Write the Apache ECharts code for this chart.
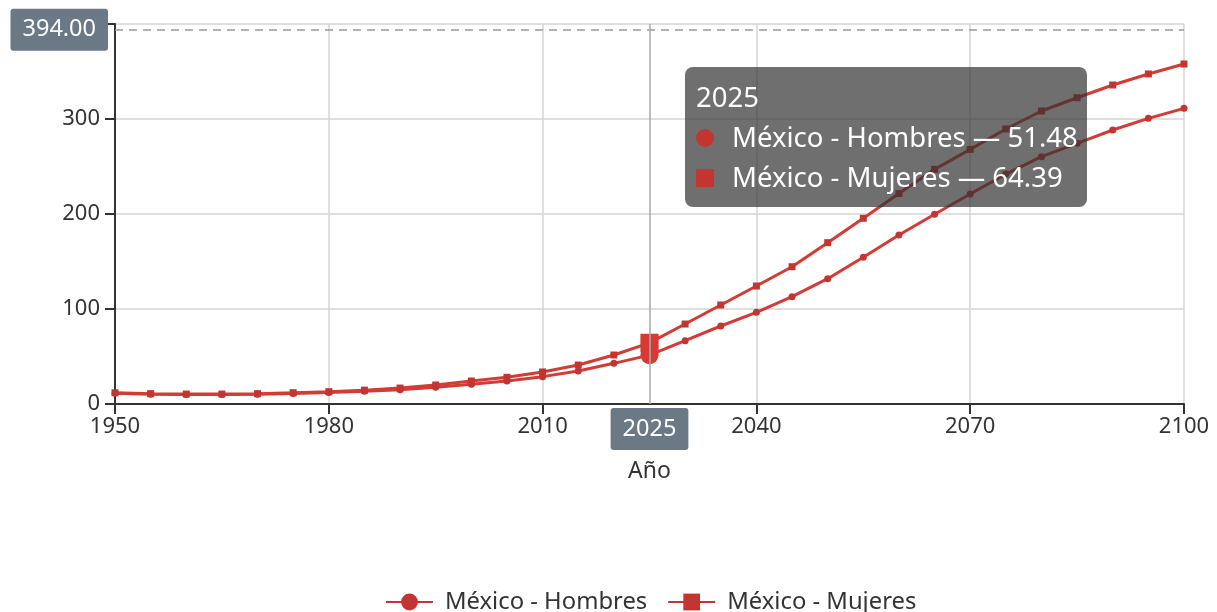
<!DOCTYPE html>
<html>
<head>
<meta charset="utf-8">
<script src="https://cdn.jsdelivr.net/npm/echarts@6/dist/echarts.min.js"></script>
<style>
html,body{margin:0;padding:0;background:#fff;}
#c{width:1217px;height:612px;}
</style>
</head>
<body>
<div id="c"></div>
<script>
// ---- data ----
const years = [1950,1955,1960,1965,1970,1975,1980,1985,1990,1995,2000,2005,2010,2015,2020,2025,2030,2035,2040,2045,2050,2055,2060,2065,2070,2075,2080,2085,2090,2095,2100];
const hombres = [11.2,10.2,9.9,9.9,10.2,11.0,12.1,13.3,14.9,17.6,20.7,24.2,28.8,34.7,42.8,51.48,66.6,82.1,96.5,113.0,131.9,154.4,177.9,199.7,221.0,242.0,260.3,274.4,288.4,300.7,311.2];
const mujeres = [11.9,10.9,10.5,10.5,10.9,11.9,13.0,14.6,16.8,20.0,24.2,28.1,33.7,41.0,51.6,64.39,84.2,104.2,124.2,144.5,169.8,195.5,221.5,247.0,268.0,289.5,308.4,322.4,335.8,347.4,357.9];
const seriesNames = ['México - Hombres', 'México - Mujeres'];
const seriesSymbols = ['circle', 'rect'];
const axisName = 'Año';
const pointerYear = 2025;
const pointerValue = 394;

const FONT = '"Noto Sans", "Open Sans", sans-serif';
const RED = '#c23531';

const chart = echarts.init(document.getElementById('c'), null, {renderer: 'canvas'});

function markerHtml(shape) {
  const r = shape === 'circle' ? 'border-radius:50%;' : '';
  return '<span style="display:inline-block;width:18px;height:18px;' + r +
    'background:' + RED + ';margin-right:18px;vertical-align:middle;position:relative;top:-2px;"></span>';
}

const seriesData = [hombres, mujeres];

chart.setOption({
  animation: false,
  textStyle: {fontFamily: FONT},
  grid: {left: 115, right: 33, top: 24, bottom: 208, containLabel: false},
  legend: {
    data: seriesNames,
    left: 380,
    top: 585,
    itemWidth: 47,
    itemHeight: 21,
    itemGap: 20,
    textStyle: {fontSize: 23.8, color: '#333', fontFamily: FONT, padding: [0, 0, 0, 7]}
  },
  tooltip: {
    trigger: 'axis',
    alwaysShowContent: true,
    transitionDuration: 0,
    backgroundColor: 'rgba(50,50,50,0.7)',
    borderWidth: 0,
    padding: [10, 9, 10, 11],
    extraCssText: 'box-shadow:none;border-radius:8px;',
    textStyle: {color: '#fff', fontSize: 27.5, fontFamily: FONT},
    position: function (point) { return [point[0] + 35, point[1] + 37]; },
    axisPointer: {
      type: 'cross',
      crossStyle: {color: '#999', width: 1.5, type: [8, 6]},
      label: {backgroundColor: '#6a7985', color: '#fff', fontSize: 23.5, fontFamily: FONT, padding: [9, 12]}
    },
    formatter: function (params) {
      let html = '<div style="line-height:40px;font-size:27.5px;">' + params[0].axisValueLabel + '</div>';
      params.forEach(function (p) {
        html += '<div style="line-height:40px;font-size:27.5px;white-space:nowrap;">' +
          markerHtml(seriesSymbols[p.seriesIndex]) + p.seriesName + ' — ' + p.value[1].toFixed(2) + '</div>';
      });
      return html;
    }
  },
  xAxis: {
    type: 'value',
    min: 1950,
    max: 2100,
    interval: 30,
    name: axisName,
    nameLocation: 'middle',
    nameGap: 56,
    nameTextStyle: {fontSize: 23, color: '#333', fontFamily: FONT},
    axisLine: {show: true, lineStyle: {color: '#333', width: 2}},
    axisTick: {show: true, length: 10, lineStyle: {color: '#333', width: 2}},
    axisLabel: {fontSize: 22, color: '#333', margin: 12, fontFamily: FONT, formatter: function (v) { return String(v); }},
    splitLine: {show: true, lineStyle: {color: '#d4d4d4', width: 1.5}},
    axisPointer: {
      lineStyle: {color: '#aaa', width: 1.5, type: 'solid'},
      label: {margin: 4, precision: 0, formatter: function (p) { return String(Math.round(p.value)); }}
    }
  },
  yAxis: {
    type: 'value',
    min: 0,
    max: 400,
    interval: 100,
    axisLine: {show: true, lineStyle: {color: '#333', width: 2}},
    axisTick: {show: true, length: 10, lineStyle: {color: '#333', width: 2}},
    axisLabel: {fontSize: 22, color: '#333', margin: 15, fontFamily: FONT},
    splitLine: {show: true, lineStyle: {color: '#d4d4d4', width: 1.5}},
    axisPointer: {
      label: {precision: 2, margin: 7}
    }
  },
  series: seriesNames.map(function (name, i) {
    return {
      name: name,
      type: 'line',
      symbol: seriesSymbols[i],
      symbolSize: 7,
      showSymbol: true,
      data: years.map(function (y, k) { return [y, seriesData[i][k]]; }),
      lineStyle: {color: RED, width: 3},
      itemStyle: {color: RED},
      emphasis: {scale: 2.6, focus: 'none'}
    };
  })
});

const pt = chart.convertToPixel({gridIndex: 0}, [pointerYear, pointerValue]);
chart.dispatchAction({type: 'showTip', x: pt[0], y: pt[1]});
</script>
</body>
</html>
